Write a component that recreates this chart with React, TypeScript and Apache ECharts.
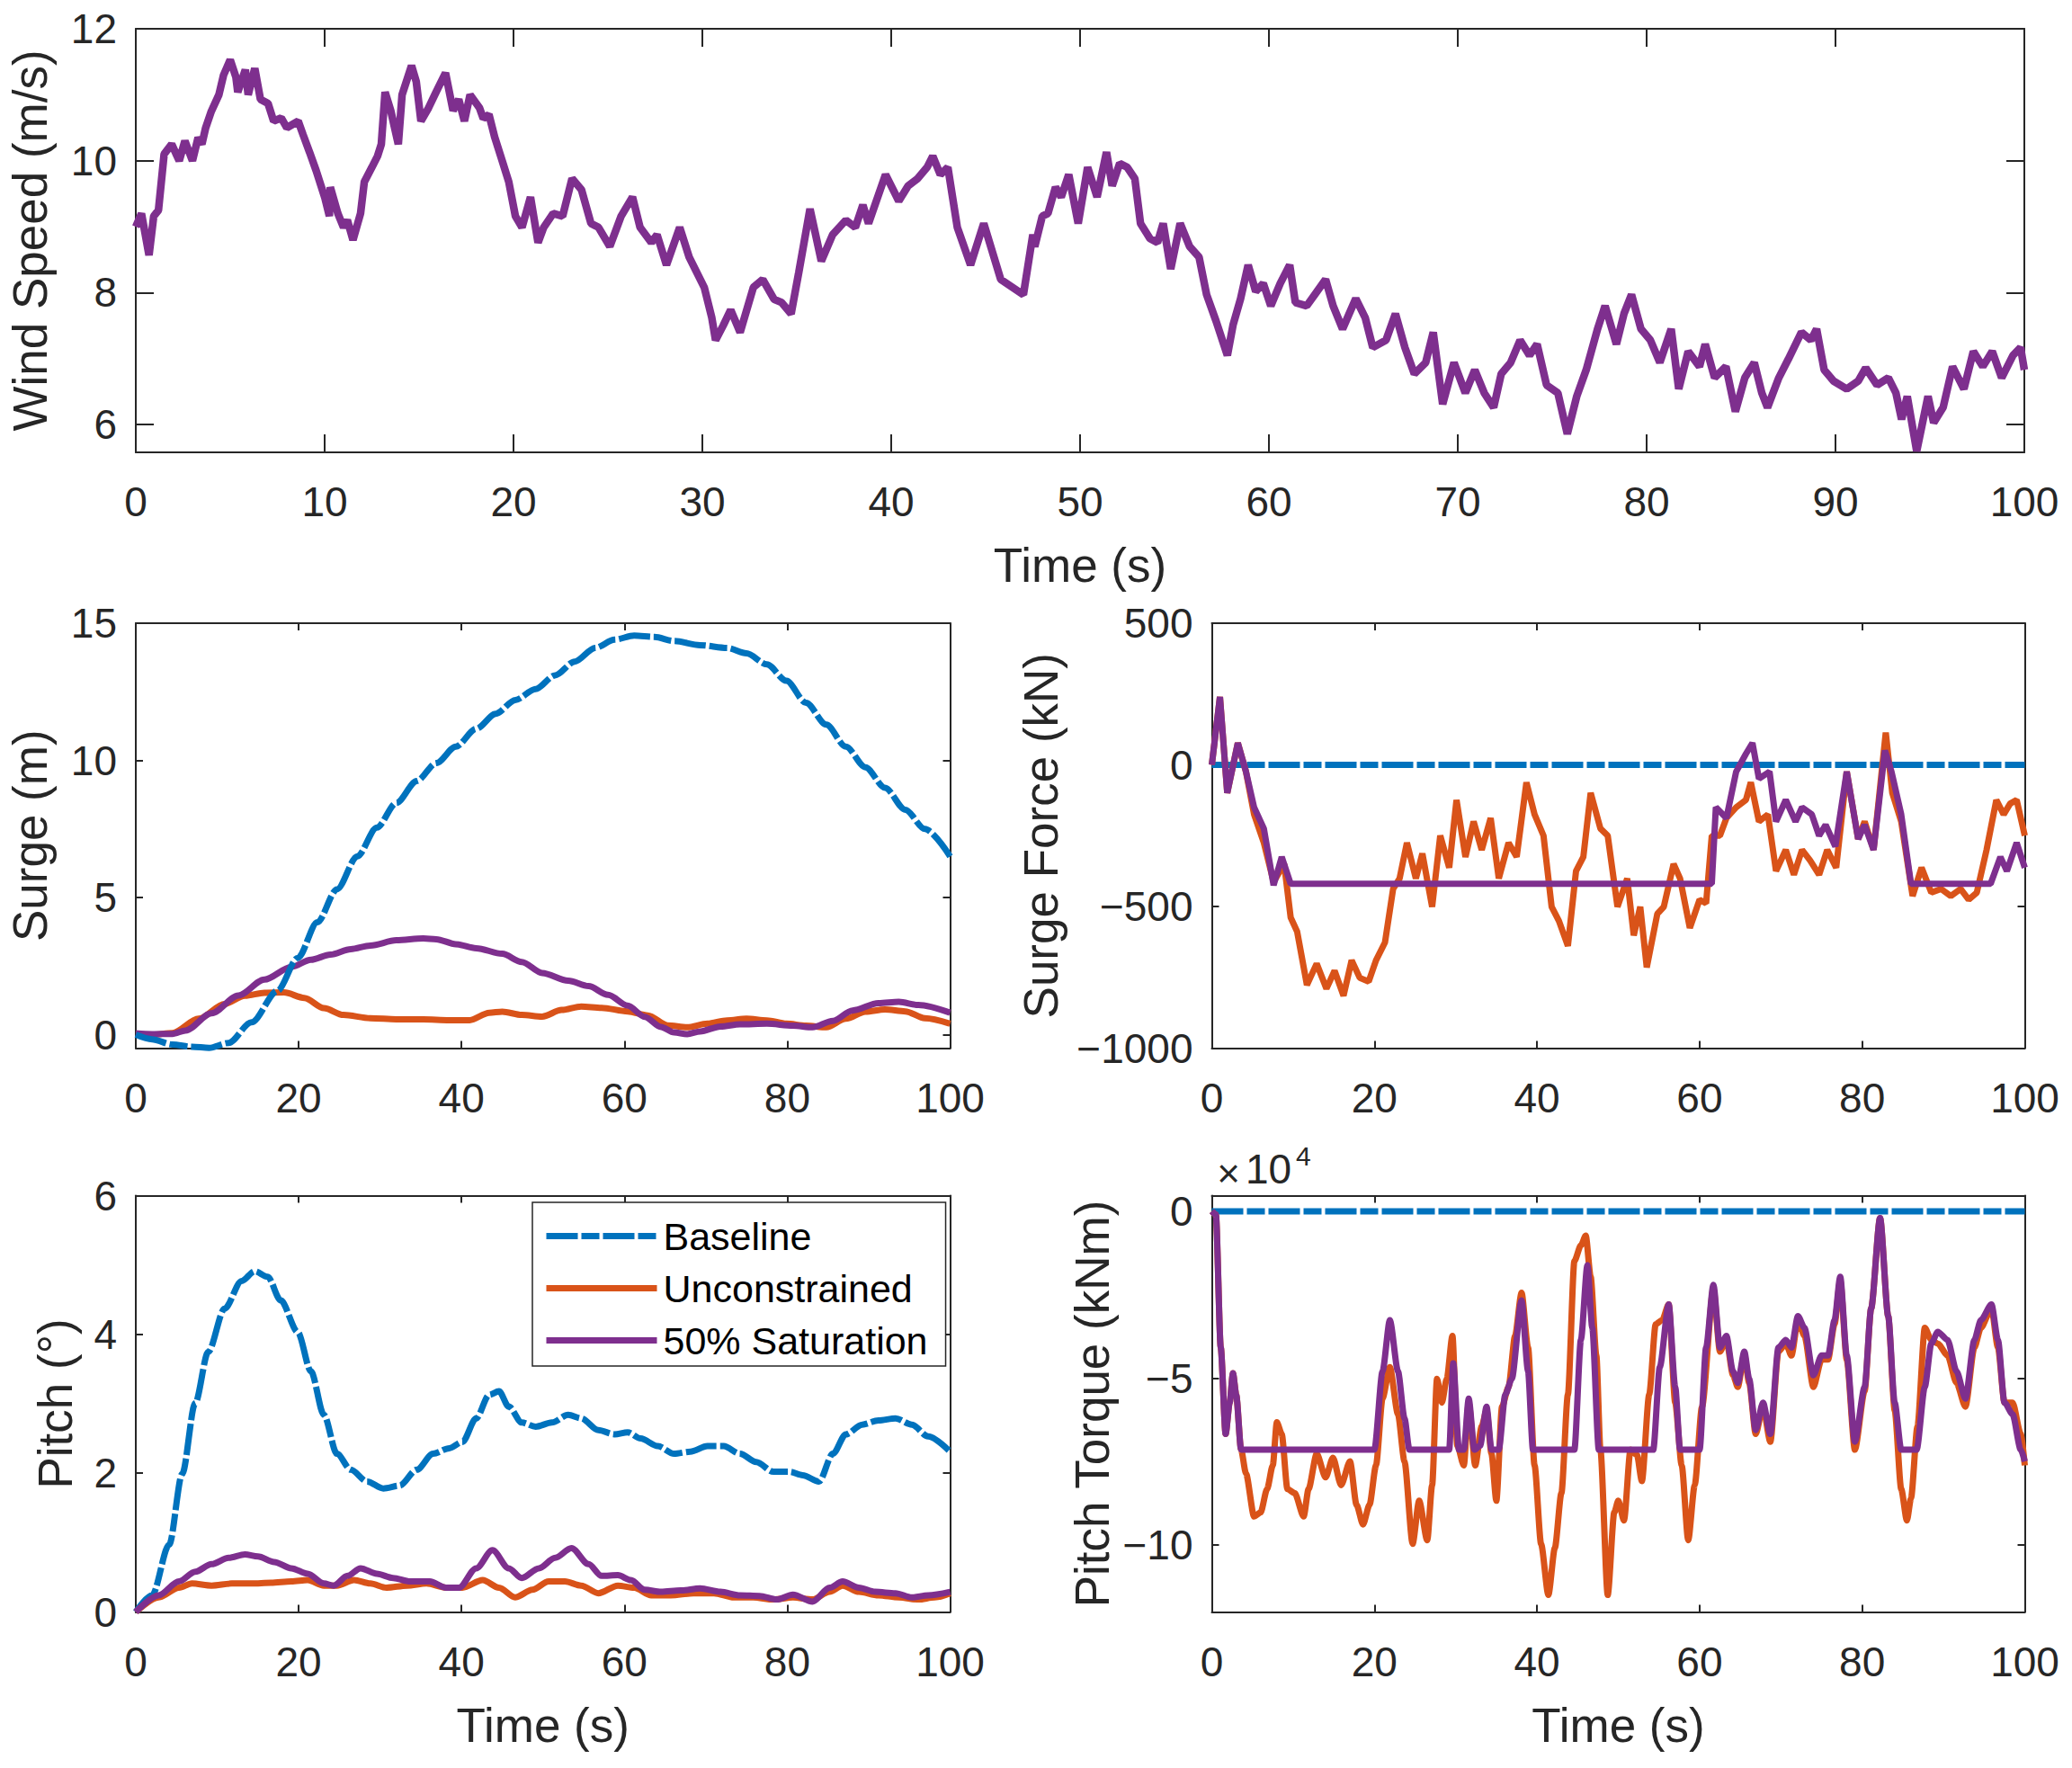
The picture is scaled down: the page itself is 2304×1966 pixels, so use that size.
import React, { useEffect, useRef } from "react";
import * as echarts from "echarts";

const FONT = '"Liberation Sans", Arial, Helvetica, sans-serif';
const INK = "#262626";
const BLUE = "#0072BD";
const ORANGE = "#D95319";
const PURPLE = "#7E2F8E";
const DASH_DOT = [35, 4, 20, 4];

// ---------- data (time s, value) ----------
const windSpeed = [
  [0, 9.0], [0.3, 9.2], [0.7, 8.57], [0.95, 9.16], [1.2, 9.25], [1.5, 10.1], [1.9, 10.25], [2.3, 10.0], [2.6, 10.3], [3.0, 10.0],
  [3.3, 10.35], [3.5, 10.25], [3.7, 10.5], [4.0, 10.75], [4.4, 11.0], [4.65, 11.3], [5.0, 11.53], [5.3, 11.27], [5.4, 11.04], [5.8, 11.38],
  [5.95, 11.0], [6.3, 11.4], [6.6, 10.93], [7.0, 10.87], [7.3, 10.6], [7.7, 10.65], [8.0, 10.5], [8.6, 10.6], [8.85, 10.4], [9.2, 10.13],
  [9.55, 9.85], [10.0, 9.45], [10.25, 9.16], [10.3, 9.6], [10.7, 9.2], [11.0, 8.99], [11.2, 9.1], [11.5, 8.8], [11.9, 9.2], [12.1, 9.68],
  [12.5, 9.9], [12.8, 10.07], [13.0, 10.25], [13.2, 11.04], [13.5, 10.76], [13.9, 10.25], [14.1, 11.0], [14.6, 11.44], [14.85, 11.2], [15.1, 10.6],
  [15.5, 10.8], [15.9, 11.04], [16.4, 11.33], [16.8, 10.76], [17.1, 10.93], [17.4, 10.6], [17.7, 11.0], [18.2, 10.8], [18.4, 10.64], [18.7, 10.7],
  [19.0, 10.36], [19.4, 10.0], [19.75, 9.68], [20.1, 9.16], [20.45, 8.99], [20.9, 9.45], [21.3, 8.76], [21.6, 8.99], [22.1, 9.2], [22.6, 9.16],
  [23.1, 9.73], [23.6, 9.56], [24.1, 9.05], [24.5, 8.99], [25.1, 8.7], [25.7, 9.16], [26.3, 9.45], [26.7, 8.99], [27.3, 8.76], [27.6, 8.88],
  [28.1, 8.42], [28.8, 8.99], [29.3, 8.54], [30.1, 8.08], [30.5, 7.62], [30.7, 7.28], [31.1, 7.5], [31.5, 7.74], [32.0, 7.4], [32.7, 8.08],
  [33.2, 8.2], [33.8, 7.9], [34.2, 7.85], [34.7, 7.68], [35.1, 8.3], [35.7, 9.27], [36.3, 8.48], [36.9, 8.88], [37.6, 9.1], [38.1, 8.99],
  [38.5, 9.33], [38.8, 9.05], [39.7, 9.79], [40.4, 9.39], [40.9, 9.62], [41.4, 9.73], [41.9, 9.9], [42.2, 10.07], [42.6, 9.79], [43.0, 9.9],
  [43.5, 8.99], [44.2, 8.42], [44.9, 9.05], [45.8, 8.2], [47.0, 7.97], [47.5, 8.88], [47.6, 8.7], [48.0, 9.16], [48.3, 9.2], [48.7, 9.6],
  [49.0, 9.45], [49.4, 9.79], [49.9, 9.05], [50.4, 9.9], [50.9, 9.45], [51.4, 10.13], [51.7, 9.62], [52.1, 9.96], [52.5, 9.9], [52.9, 9.73],
  [53.2, 9.05], [53.7, 8.82], [54.1, 8.76], [54.4, 9.05], [54.8, 8.36], [55.3, 9.05], [55.8, 8.7], [56.3, 8.54], [56.7, 7.97], [57.2, 7.57],
  [57.8, 7.05], [58.1, 7.51], [58.5, 7.91], [58.9, 8.42], [59.3, 8.02], [59.7, 8.14], [60.1, 7.8], [60.6, 8.14], [61.1, 8.42], [61.4, 7.85],
  [62.0, 7.8], [62.5, 8.0], [63.0, 8.2], [63.4, 7.8], [63.9, 7.45], [64.6, 7.91], [65.1, 7.62], [65.5, 7.17], [66.2, 7.28], [66.7, 7.68],
  [67.2, 7.17], [67.7, 6.77], [68.3, 6.94], [68.7, 7.4], [69.2, 6.31], [69.8, 6.94], [70.4, 6.48], [70.9, 6.83], [71.4, 6.48], [71.9, 6.26],
  [72.3, 6.77], [72.8, 6.94], [73.3, 7.28], [73.8, 7.05], [74.2, 7.22], [74.7, 6.6], [75.3, 6.48], [75.8, 5.86], [76.3, 6.43], [76.8, 6.83],
  [77.4, 7.45], [77.8, 7.8], [78.4, 7.22], [78.8, 7.68], [79.2, 7.97], [79.7, 7.45], [80.2, 7.28], [80.7, 6.94], [81.3, 7.45], [81.7, 6.54],
  [82.2, 7.11], [82.8, 6.88], [83.1, 7.22], [83.6, 6.71], [84.2, 6.88], [84.7, 6.2], [85.2, 6.71], [85.7, 6.94], [86.1, 6.48], [86.4, 6.26],
  [87.0, 6.71], [87.5, 6.99], [88.2, 7.4], [88.7, 7.28], [89.0, 7.45], [89.4, 6.83], [89.9, 6.66], [90.6, 6.54], [91.2, 6.66], [91.6, 6.86],
  [92.2, 6.6], [92.8, 6.71], [93.2, 6.48], [93.5, 6.08], [93.8, 6.43], [94.3, 5.6], [94.9, 6.43], [95.2, 6.03], [95.7, 6.26], [96.2, 6.88],
  [96.8, 6.54], [97.3, 7.11], [97.8, 6.88], [98.3, 7.11], [98.8, 6.71], [99.4, 7.05], [99.8, 7.17], [100, 6.83],
];

const surgeBaseline = [
  [0, 0], [2, -0.17], [4.5, -0.36], [6.9, -0.44], [9, -0.48], [11.4, -0.3], [14.2, 0.45], [17.4, 1.6], [19.9, 2.8], [22.3, 4.1],
  [24.7, 5.3], [27.2, 6.5], [29.6, 7.55], [32, 8.45], [34.5, 9.25], [36.9, 9.9], [39.3, 10.5], [41.8, 11.15], [44.2, 11.7], [46.6, 12.2],
  [49.1, 12.6], [51.5, 13.1], [53.9, 13.6], [56.4, 14.1], [58.8, 14.4], [61.2, 14.55], [63.7, 14.5], [66.1, 14.35], [69.3, 14.2], [72.6, 14.1],
  [75, 13.9], [77.5, 13.5], [79.9, 12.9], [82.3, 12.1], [84.8, 11.3], [87.2, 10.5], [89.6, 9.75], [92, 9.0], [94.5, 8.2], [96.9, 7.5], [100, 6.5],
];
const surgeUnconstrained = [
  [0, 0.02], [2, 0.0], [4.5, 0.06], [7.7, 0.58], [10.9, 1.12], [13.4, 1.42], [15.8, 1.53], [18.2, 1.54], [20.7, 1.34], [23.1, 0.97],
  [25.5, 0.72], [28.8, 0.6], [32, 0.56], [35.3, 0.56], [38.5, 0.53], [41, 0.53], [43.4, 0.8], [45, 0.84], [47.4, 0.72], [49.9, 0.66],
  [52.3, 0.9], [54.7, 1.03], [57.2, 0.98], [60.4, 0.85], [62.9, 0.7], [65.3, 0.34], [67.7, 0.27], [70.2, 0.4], [72.6, 0.52], [75, 0.58],
  [77.5, 0.52], [79.9, 0.4], [82.3, 0.33], [84.8, 0.27], [87.2, 0.58], [89.6, 0.84], [92, 0.92], [94.5, 0.85], [96.9, 0.6], [100, 0.4],
];
const surgeSaturated = [
  [0, 0.05], [2, 0.02], [4.5, 0.03], [6.1, 0.15], [9.3, 0.78], [12.6, 1.43], [15.8, 2.01], [19.1, 2.47], [21.5, 2.73], [23.9, 2.92],
  [26.4, 3.12], [28.8, 3.25], [32, 3.44], [35.3, 3.51], [36.9, 3.48], [39.3, 3.3], [41.8, 3.15], [45, 2.95], [47.4, 2.65], [49.9, 2.25],
  [53.1, 1.97], [55.6, 1.77], [58, 1.45], [60.4, 1.06], [62.5, 0.65], [64.5, 0.28], [66.1, 0.08], [67.7, 0.02], [69.3, 0.12], [71.8, 0.3],
  [74.2, 0.38], [77.5, 0.4], [80.7, 0.33], [83.1, 0.27], [85.6, 0.5], [88, 0.88], [91.2, 1.15], [93.7, 1.2], [96.1, 1.08], [100, 0.8],
];

const forceBaseline = [[0, 0], [100, 0]];
const forceUnconstrained = [
  [0, 0], [1.0, 240], [1.9, -99], [3.2, 77], [4.2, -24], [5.2, -175], [6.4, -275], [7.6, -413], [8.9, -350], [9.7, -539],
  [10.5, -589], [11.7, -777], [12.9, -702], [14.1, -790], [15.1, -727], [16.2, -815], [17.2, -690], [18.2, -752], [19.3, -765], [20.2, -690],
  [21.3, -627], [22.3, -438], [23.1, -401], [24.0, -275], [25.1, -401], [25.9, -313], [27.1, -501], [28.1, -250], [29.2, -363], [30.1, -124],
  [31.2, -325], [32.2, -200], [33.2, -300], [34.3, -188], [35.3, -401], [36.5, -275], [37.5, -325], [38.7, -62], [39.7, -175], [40.8, -250],
  [41.8, -501], [42.7, -551], [43.8, -639], [44.8, -375], [45.7, -325], [46.6, -99], [47.8, -225], [48.7, -250], [49.9, -501], [51.1, -401],
  [51.9, -602], [52.7, -501], [53.5, -715], [54.8, -526], [55.6, -501], [56.8, -350], [57.6, -401], [58.8, -576], [60.0, -476], [60.8, -489],
  [61.5, -250], [62.5, -250], [63.3, -188], [64.5, -150], [65.7, -124], [66.3, -62], [67.3, -200], [68.4, -175], [69.4, -375], [70.6, -300],
  [71.6, -388], [72.6, -300], [73.6, -338], [74.7, -388], [75.7, -300], [76.8, -363], [78.1, -24], [79.5, -262], [80.3, -200], [81.4, -300],
  [82.9, 114], [83.7, -99], [84.8, -200], [86.2, -463], [87.3, -363], [88.5, -451], [89.7, -438], [90.9, -463], [92.1, -438], [93.1, -476],
  [94.1, -451], [95.3, -300], [96.5, -124], [97.4, -175], [98.2, -137], [99.0, -124], [100, -250],
];
const forceSaturated = [
  [0, 0], [1.0, 240], [1.9, -99], [3.2, 77], [4.2, -24], [5.2, -150], [6.4, -225], [7.6, -425], [8.6, -325], [9.7, -420],
  [61.5, -420], [62, -150], [63.3, -188], [64.5, -24], [65.7, 39], [66.5, 77], [67.3, -49], [68.6, -24], [69.4, -200], [70.6, -124],
  [71.8, -200], [72.6, -150], [73.8, -175], [74.7, -250], [75.5, -212], [76.7, -288], [78.1, -24], [79.5, -262], [80.3, -212], [81.4, -300],
  [82.8, 51], [83.6, -24], [84.8, -175], [86.0, -420], [95.8, -420], [97, -325], [97.8, -375], [99, -275], [100, -363],
];

const pitchBaseline = [
  [0, 0], [2, 0.24], [4.1, 0.97], [5.7, 1.99], [7.3, 3.01], [8.9, 3.75], [10.9, 4.37], [13, 4.77], [14.6, 4.91], [16.2, 4.83],
  [17.8, 4.49], [19.9, 4.03], [21.5, 3.47], [23.1, 2.84], [24.7, 2.28], [26.4, 2.05], [28.4, 1.88], [30.4, 1.78], [32.4, 1.82], [34.5, 2.05],
  [36.5, 2.28], [38.5, 2.36], [40.1, 2.45], [41.8, 2.79], [43.4, 3.13], [44.6, 3.18], [45.8, 2.96], [47.4, 2.73], [49.1, 2.67], [51.1, 2.73],
  [53.1, 2.84], [54.7, 2.79], [56.8, 2.62], [58.8, 2.56], [60.4, 2.59], [62, 2.5], [64.1, 2.39], [66.1, 2.28], [68.1, 2.31], [70.2, 2.39],
  [72.2, 2.39], [74.2, 2.28], [76.2, 2.16], [78.3, 2.02], [80.3, 2.02], [81.9, 1.97], [83.9, 1.88], [85.6, 2.28], [87.2, 2.56], [89.2, 2.7],
  [91.2, 2.76], [93.3, 2.79], [95.3, 2.7], [97.3, 2.53], [100, 2.31],
];
const pitchUnconstrained = [
  [0, 0], [2.8, 0.21], [5.3, 0.35], [6.9, 0.41], [9.3, 0.38], [11.8, 0.41], [14.2, 0.41], [16.6, 0.42], [19.1, 0.44], [21.1, 0.46],
  [23.1, 0.38], [24.7, 0.38], [26.8, 0.46], [28.8, 0.41], [30.8, 0.35], [33.3, 0.38], [35.7, 0.41], [38.1, 0.35], [40.1, 0.35], [42.6, 0.46],
  [44.6, 0.35], [46.6, 0.21], [48.7, 0.32], [50.7, 0.44], [52.7, 0.44], [54.7, 0.38], [56.8, 0.27], [59.2, 0.38], [61.2, 0.35], [63.3, 0.24],
  [65.7, 0.24], [68.5, 0.27], [71.0, 0.27], [73.4, 0.21], [75.8, 0.21], [78.3, 0.18], [80.7, 0.21], [83.1, 0.18], [85.2, 0.29], [86.8, 0.38],
  [88.8, 0.29], [91.2, 0.24], [93.7, 0.21], [96.1, 0.18], [98.1, 0.21], [100, 0.27],
];
const pitchSaturated = [
  [0, 0], [2.8, 0.24], [5.3, 0.44], [7.3, 0.58], [9.3, 0.69], [11.4, 0.78], [13.4, 0.83], [15, 0.8], [17, 0.72], [19.1, 0.63],
  [21.1, 0.55], [23.1, 0.41], [24.3, 0.38], [26.0, 0.52], [27.6, 0.63], [29.6, 0.55], [31.6, 0.49], [33.7, 0.44], [36.1, 0.44], [38.1, 0.35],
  [39.7, 0.35], [41.8, 0.63], [43.8, 0.89], [45.8, 0.63], [47.4, 0.49], [49.5, 0.63], [51.5, 0.78], [53.5, 0.92], [55.6, 0.69], [57.2, 0.52],
  [59.2, 0.53], [60.8, 0.46], [62.5, 0.32], [64.5, 0.29], [66.9, 0.31], [69.3, 0.34], [71.8, 0.29], [74.2, 0.24], [76.6, 0.23], [78.7, 0.18],
  [80.7, 0.25], [83.1, 0.15], [85.2, 0.35], [86.8, 0.44], [88.8, 0.35], [90.8, 0.29], [93.3, 0.27], [95.3, 0.21], [97.3, 0.24], [100, 0.29],
];

// pitch torque in units of 1e4 kNm
const torqueBaseline = [[0, 0], [100, 0]];
const torqueUnconstrained = [
  [0, 0], [0.5, -0.1], [1.1, -4.08], [1.7, -6.67], [2.2, -5.73], [2.6, -4.85], [3.0, -5.49], [3.6, -7.14], [4.2, -7.85], [5.2, -9.14],
  [6.0, -9.02], [6.8, -8.32], [7.5, -7.61], [8.0, -6.32], [8.6, -6.67], [9.3, -8.32], [10.2, -8.44], [11.3, -9.14], [11.9, -8.32], [12.9, -7.26],
  [14.0, -7.97], [14.9, -7.38], [15.9, -8.2], [17.0, -7.49], [17.8, -8.79], [18.6, -9.38], [19.4, -8.79], [20.2, -7.61], [21.0, -5.6], [21.9, -4.67],
  [22.9, -6.08], [23.7, -7.49], [24.7, -9.96], [25.5, -8.67], [26.5, -9.85], [27.1, -8.2], [27.7, -5.02], [28.3, -5.73], [28.9, -5.02], [29.6, -3.73],
  [30.2, -7.02], [31.0, -7.61], [31.6, -5.73], [32.4, -7.61], [33.2, -6.44], [33.8, -5.96], [34.4, -7.26], [35.0, -8.67], [35.7, -5.85], [36.5, -5.26],
  [37.3, -3.73], [38.1, -2.44], [38.9, -4.08], [39.7, -7.61], [40.5, -9.96], [41.4, -11.49], [42.2, -10.08], [43.0, -8.44], [43.8, -5.49], [44.6, -1.49],
  [45.4, -1.02], [46.0, -0.73], [46.6, -1.96], [47.3, -4.32], [47.8, -7.14], [48.7, -11.49], [49.5, -9.02], [50.0, -8.67], [50.7, -9.26], [51.5, -7.14],
  [52.3, -7.3], [52.9, -8.08], [53.8, -5.49], [54.6, -3.38], [55.4, -3.26], [56.2, -2.79], [57.0, -5.73], [57.8, -7.61], [58.6, -9.85], [59.4, -8.2],
  [60.3, -5.85], [61.7, -2.32], [62.5, -4.2], [63.3, -3.85], [64.1, -4.9], [64.7, -5.26], [65.5, -4.3], [66.1, -5.14], [66.9, -6.67], [67.8, -5.85],
  [68.7, -6.9], [69.7, -4.2], [70.6, -3.96], [71.3, -4.32], [72.1, -3.26], [72.9, -3.73], [74.0, -5.26], [75.0, -4.44], [75.8, -4.44], [76.6, -3.38],
  [77.3, -2.08], [78.1, -4.44], [79.1, -7.14], [80.3, -5.38], [81.1, -2.91], [82.2, -0.2], [83.2, -3.14], [84.0, -5.96], [84.8, -8.32], [85.5, -9.26],
  [86.0, -8.6], [86.8, -6.44], [87.7, -3.49], [88.5, -3.85], [89.3, -3.96], [90.5, -4.32], [91.6, -5.14], [92.7, -5.85], [93.8, -4.08], [94.6, -3.49],
  [95.9, -2.91], [96.7, -4.08], [97.5, -5.73], [98.5, -5.73], [99.5, -6.67], [100, -7.61],
];
const torqueSaturated = [
  [0, 0], [0.5, -0.1], [1.1, -4.08], [1.7, -6.67], [2.2, -5.73], [2.6, -4.85], [3.0, -5.49], [3.6, -7.14], [20.0, -7.14], [21.0, -4.79],
  [21.9, -3.26], [22.9, -4.79], [23.7, -6.2], [24.3, -7.14], [29.2, -7.14], [29.7, -4.55], [30.4, -7.14], [31.0, -7.14], [31.6, -5.61], [32.3, -7.14],
  [33.0, -7.02], [33.8, -5.85], [34.4, -7.14], [35.3, -7.14], [36.1, -5.49], [36.9, -5.02], [38.1, -2.67], [38.9, -4.79], [39.5, -7.14], [44.6, -7.14],
  [45.4, -3.85], [46.2, -1.61], [46.8, -3.49], [47.6, -7.14], [54.3, -7.14], [55.1, -4.67], [56.2, -2.79], [57.0, -5.26], [57.6, -7.14], [60.0, -7.14],
  [60.8, -4.08], [61.7, -2.2], [62.5, -4.08], [63.3, -3.73], [64.1, -4.79], [64.7, -5.14], [65.5, -4.2], [66.1, -5.02], [66.9, -6.55], [67.8, -5.73],
  [68.7, -6.67], [69.7, -4.08], [70.6, -3.85], [71.3, -4.08], [72.1, -3.14], [72.9, -3.49], [74.0, -4.91], [75.0, -4.32], [75.8, -4.32], [76.6, -3.26],
  [77.3, -1.96], [78.1, -4.32], [79.1, -6.9], [80.3, -5.26], [81.1, -2.91], [82.2, -0.2], [83.2, -3.14], [84.0, -5.73], [84.8, -7.14], [86.7, -7.14],
  [87.7, -5.26], [88.5, -3.96], [89.3, -3.61], [90.5, -3.85], [91.6, -4.79], [92.7, -5.61], [93.8, -3.85], [94.6, -3.26], [95.9, -2.79], [96.7, -3.85],
  [97.5, -5.73], [98.5, -6.08], [99.5, -7.14], [100, -7.49],
];

// ---------- tick values ----------
const windTicks = [6, 8, 10, 12];
const surgeTicks = [0, 5, 10, 15];
const forceTicks = [-1000, -500, 0, 500];
const pitchTicks = [0, 2, 4, 6];
const torqueTicks = [-10, -5, 0];
const legendNames = ["Baseline", "Unconstrained", "50% Saturation"];

// ---------- layout ----------
const panels = [
  { left: 151, top: 32, width: 2100, height: 471, xInterval: 10, yMin: 5.58, yMax: 12, yTicks: windTicks, tick: 20, yName: "Wind Speed (m/s)", yGap: 118, xName: "Time (s)" },
  { left: 151, top: 693, width: 905.5, height: 472.5, xInterval: 20, yMin: -0.49, yMax: 15, yTicks: surgeTicks, tick: 8, yName: "Surge (m)", yGap: 118, xName: "" },
  { left: 1347.5, top: 693, width: 904, height: 472.5, xInterval: 20, yMin: -1000, yMax: 500, yTicks: forceTicks, tick: 8, yName: "Surge Force (kN)", yGap: 190, xName: "" },
  { left: 151, top: 1329.5, width: 905.5, height: 463, xInterval: 20, yMin: 0, yMax: 6, yTicks: pitchTicks, tick: 8, yName: "Pitch (°)", yGap: 90, xName: "Time (s)" },
  { left: 1347.5, top: 1329.5, width: 904, height: 463, xInterval: 20, yMin: -12.0, yMax: 0.47, yTicks: torqueTicks, tick: 8, yName: "Pitch Torque (kNm)", yGap: 133, xName: "Time (s)" },
];

const fmt = (v: number) => (v < 0 ? "\u2212" + String(Math.abs(v)) : String(v));

function buildOption() {
  const line = { show: true, onZero: false, lineStyle: { color: INK, width: 2 } };
  const xAxis: any[] = [];
  const yAxis: any[] = [];
  panels.forEach((p, i) => {
    const xBase = {
      type: "value", gridIndex: i, min: 0, max: 100, interval: p.xInterval,
      axisLine: line, splitLine: { show: false },
      axisTick: { show: true, inside: true, length: p.tick, lineStyle: { color: INK, width: 2 } },
    };
    xAxis.push({
      ...xBase, position: "bottom",
      axisLabel: { show: true, margin: 55, verticalAlign: "middle", fontSize: 46, color: INK, fontFamily: FONT, formatter: fmt },
      name: p.xName, nameLocation: "middle", nameGap: 125.5,
      nameTextStyle: { fontSize: 53, color: INK, fontFamily: FONT, align: "center", verticalAlign: "middle" },
    });
    xAxis.push({ ...xBase, position: "top", axisLabel: { show: false } });
    const yBase = {
      type: "value", gridIndex: i, min: p.yMin, max: p.yMax,
      axisLine: line, splitLine: { show: false },
      axisTick: { show: true, inside: true, length: p.tick, customValues: p.yTicks, lineStyle: { color: INK, width: 2 } },
    };
    yAxis.push({
      ...yBase, position: "left",
      axisLabel: { show: true, margin: 21, customValues: p.yTicks, fontSize: 46, color: INK, fontFamily: FONT, formatter: fmt },
      name: p.yName, nameLocation: "middle", nameGap: p.yGap, nameRotate: 90,
      nameTextStyle: { fontSize: 53, color: INK, fontFamily: FONT, align: "center", verticalAlign: "middle" },
    });
    yAxis.push({ ...yBase, position: "right", axisLabel: { show: false } });
  });

  const mk = (name: string, data: number[][], color: string, g: number, dashed: boolean, smooth: number, width = 7, z = 2) => ({
    type: "line", name, data, xAxisIndex: 2 * g, yAxisIndex: 2 * g,
    symbol: "none", showSymbol: false, smooth, smoothMonotone: "x", z,
    lineStyle: { color, width, type: dashed ? DASH_DOT : "solid", cap: "butt" },
    itemStyle: { color },
    emphasis: { disabled: true },
  });

  const series = [
    mk("Wind Speed", windSpeed, PURPLE, 0, false, 0, 8.5),
    mk("Baseline", surgeBaseline, BLUE, 1, true, 0.3, 7, 4),
    mk("Unconstrained", surgeUnconstrained, ORANGE, 1, false, 0.3),
    mk("50% Saturation", surgeSaturated, PURPLE, 1, false, 0.3, 7, 3),
    mk("Baseline", forceBaseline, BLUE, 2, true, 0),
    mk("Unconstrained", forceUnconstrained, ORANGE, 2, false, 0),
    mk("50% Saturation", forceSaturated, PURPLE, 2, false, 0, 7, 3),
    mk("Baseline", pitchBaseline, BLUE, 3, true, 0.3),
    mk("Unconstrained", pitchUnconstrained, ORANGE, 3, false, 0.3),
    mk("50% Saturation", pitchSaturated, PURPLE, 3, false, 0.3, 7, 3),
    mk("Baseline", torqueBaseline, BLUE, 4, true, 0),
    mk("Unconstrained", torqueUnconstrained, ORANGE, 4, false, 0.25),
    mk("50% Saturation", torqueSaturated, PURPLE, 4, false, 0.25, 7, 3),
  ];

  return {
    animation: false,
    backgroundColor: "#ffffff",
    textStyle: { fontFamily: FONT },
    grid: panels.map((p) => ({ left: p.left, top: p.top, width: p.width, height: p.height, containLabel: false, outerBoundsMode: "none" })),
    xAxis,
    yAxis,
    legend: {
      show: true, orient: "vertical", left: 592, top: 1337,
      data: legendNames, selectedMode: false,
      itemWidth: 123, itemHeight: 2, itemGap: 15,
      padding: [16, 20, 7, 12],
      borderColor: INK, borderWidth: 1.5, backgroundColor: "#ffffff",
      lineStyle: { width: 7, cap: "butt" },
      itemStyle: { opacity: 0 },
      textStyle: { fontSize: 43, color: "#000000", fontFamily: FONT, padding: [0, 0, 0, 2] },
      z: 10,
    },
    graphic: [
      { type: "text", x: 1366, y: 1304, style: { text: "\u00d7", fontSize: 44, fontFamily: FONT, fill: INK, align: "center", verticalAlign: "middle" } },
      { type: "text", x: 1385, y: 1300, style: { text: "10", fontSize: 46, fontFamily: FONT, fill: INK, align: "left", verticalAlign: "middle" } },
      { type: "text", x: 1441, y: 1285, style: { text: "4", fontSize: 30, fontFamily: FONT, fill: INK, align: "left", verticalAlign: "middle" } },
    ],
    series,
  };
}

export default function App() {
  const ref = useRef<HTMLDivElement>(null);
  useEffect(() => {
    if (!ref.current) return;
    const chart = echarts.init(ref.current, null, { renderer: "svg" });
    chart.setOption(buildOption() as any);
    return () => chart.dispose();
  }, []);
  return (
    <div
      ref={ref}
      style={{ position: "absolute", left: 0, top: 0, width: 2304, height: 1966, background: "#ffffff" }}
    />
  );
}
